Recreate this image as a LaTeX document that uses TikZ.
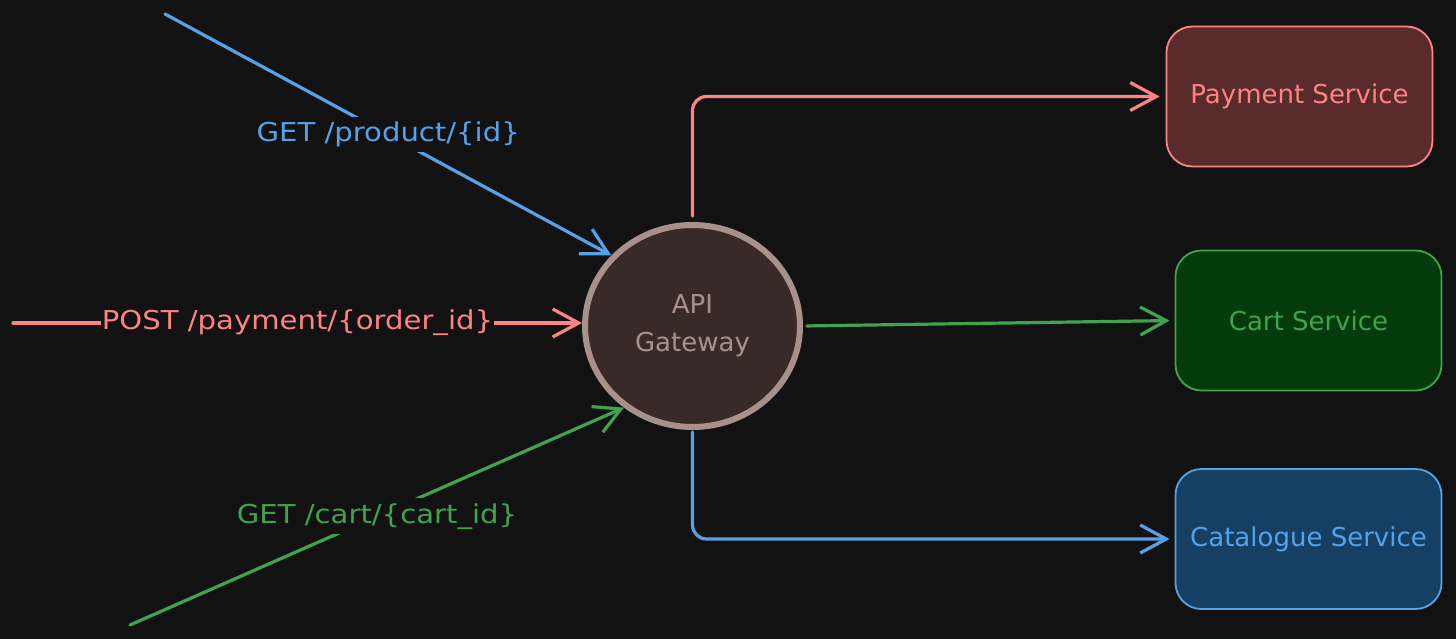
\documentclass[tikz,border=0pt]{standalone}
\usepackage{fontspec}
\setmainfont{DejaVu Sans}
\newfontfamily\lblfont[FakeStretch=1.12]{DejaVu Sans}
\usetikzlibrary{arrows.meta,shapes.geometric}
\definecolor{bg}{HTML}{121212}
\definecolor{redc}{HTML}{FF8383}
\definecolor{redfill}{HTML}{5A2B2B}
\definecolor{greenc}{HTML}{3FA34F}
\definecolor{greenfill}{HTML}{043B0C}
\definecolor{bluec}{HTML}{56A2E8}
\definecolor{bluefill}{HTML}{154064}
\definecolor{gwline}{HTML}{A8918A}
\definecolor{gwfill}{HTML}{382B27}
\tikzset{
  boxtxt/.style={font=\fontsize{26}{36}\selectfont},
  lbltxt/.style={font=\lblfont\fontsize{26}{36}\selectfont},
  svc/.style={draw, line width=1.8pt, rounded corners=26pt, minimum width=266pt, minimum height=140pt, boxtxt},
  conn/.style={line width=3.2pt, line cap=round, -{Straight Barb[length=26pt,width=28pt,line width=3.2pt]}},
  lbl/.style={fill=bg, inner sep=5pt, lbltxt},
}
\begin{document}
\begin{tikzpicture}[x=1pt,y=-1pt]
\useasboundingbox (0,0) rectangle (1456,639);
\fill[bg] (0,0) rectangle (1456,639);

\node[ellipse, draw=gwline, fill=gwfill, line width=6pt, minimum width=215pt, minimum height=202pt, inner sep=0pt, text=gwline, align=center, font=\fontsize{26}{38}\selectfont] (gw) at (692.5,326) {API\\Gateway};

\node[svc, draw=redc, fill=redfill, text=redc] (pay) at (1299.5,96.5) {Payment Service};
\node[svc, draw=greenc, fill=greenfill, text=greenc] (cart) at (1308.5,320.5) {Cart Service};
\node[svc, draw=bluec, fill=bluefill, text=bluec] (cat) at (1308.5,539) {Catalogue Service};

\coordinate (bsrc) at (165,14);
\coordinate (rsrc) at (13,323);
\coordinate (gsrc) at (130,625);

\draw[conn, bluec] (bsrc) -- (gw.139) node[lbl, text=bluec, pos=0.5] {GET /product/\{id\}};
\draw[conn, redc] (rsrc) -- (gw.west |- rsrc) node[lbl, text=redc, pos=0.5, inner sep=1pt] {POST /payment/\{order\_id\}};
\draw[conn, greenc] (gsrc) -- (gw.230) node[lbl, text=greenc, pos=0.5] {GET /cart/\{cart\_id\}};

\draw[conn, redc, rounded corners=14pt, shorten <=6pt, shorten >=6pt] (gw.north) |- (pay.west);
\draw[conn, greenc, shorten <=4pt, shorten >=5pt] (gw.east) -- (cart.west);
\draw[conn, bluec, rounded corners=14pt, shorten <=2pt, shorten >=5pt] (gw.south) |- (cat.west);
\end{tikzpicture}
\end{document}
